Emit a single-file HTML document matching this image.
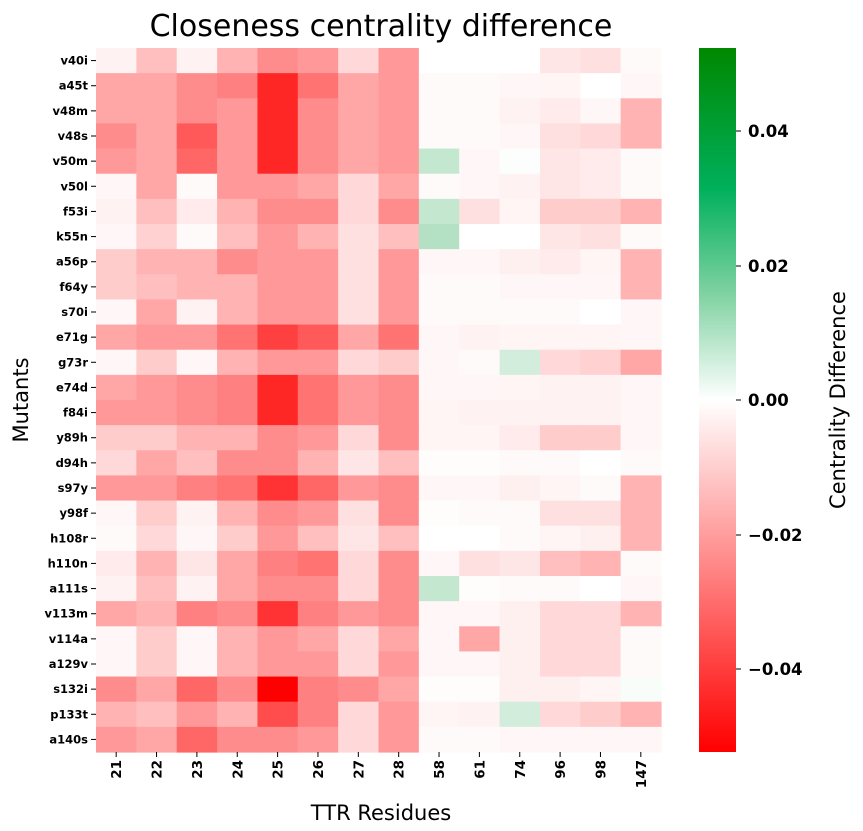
<!DOCTYPE html>
<html><head><meta charset="utf-8"><style>
body{margin:0;background:#fff;width:863px;height:826px;overflow:hidden;font-family:"Liberation Sans","DejaVu Sans",sans-serif}
</style></head><body>
<svg id="s" width="863" height="826" xmlns="http://www.w3.org/2000/svg" font-family="DejaVu Sans, Liberation Sans, sans-serif">
<defs><linearGradient id="g" x1="0" y1="0" x2="0" y2="1">
<stop offset="0" stop-color="#008800"/><stop offset="0.2" stop-color="#00b05c"/><stop offset="0.35" stop-color="#80d2a2"/><stop offset="0.5" stop-color="#ffffff"/><stop offset="1" stop-color="#ff0000"/></linearGradient></defs>
<text x="381" y="36" font-size="30" text-anchor="middle">Closeness centrality difference</text>
<text x="381" y="820" font-size="21" text-anchor="middle">TTR Residues</text>
<text transform="translate(28,400) rotate(-90)" font-size="21" text-anchor="middle">Mutants</text>
<text transform="translate(845,400) rotate(-90)" font-size="21" text-anchor="middle">Centrality Difference</text>
<rect x="699" y="48" width="37" height="704" fill="url(#g)"/>
<g font-size="16.5" font-weight="bold">
<line x1="736" y1="131" x2="741" y2="131" stroke="#000"/><text x="748" y="137">0.04</text>
<line x1="736" y1="266" x2="741" y2="266" stroke="#000"/><text x="748" y="272">0.02</text>
<line x1="736" y1="400" x2="741" y2="400" stroke="#000"/><text x="748" y="406">0.00</text>
<line x1="736" y1="535" x2="741" y2="535" stroke="#000"/><text x="748" y="541">−0.02</text>
<line x1="736" y1="669" x2="741" y2="669" stroke="#000"/><text x="748" y="675">−0.04</text>
</g>
<g id="cells"></g>
</svg>
<script>
var cols=["21","22","23","24","25","26","27","28","58","61","74","96","98","147"];
var rows=[
["v40i",[0.05,0.25,0.05,0.3,0.45,0.4,0.15,0.4,0,0,0,0.1,0.12,0.02]],
["a45t",[0.35,0.35,0.45,0.5,0.85,0.55,0.35,0.4,0.02,0.02,0.03,0.04,0,0.03]],
["v48m",[0.35,0.35,0.45,0.4,0.85,0.45,0.35,0.4,0.02,0.02,0.05,0.08,0.03,0.3]],
["v48s",[0.45,0.35,0.65,0.4,0.85,0.45,0.35,0.4,0.02,0.02,0.03,0.12,0.15,0.3]],
["v50m",[0.4,0.35,0.6,0.4,0.85,0.45,0.35,0.4,-0.2,0.03,-0.01,0.1,0.08,0.02]],
["v50l",[0.03,0.35,0.02,0.4,0.4,0.35,0.15,0.35,0.02,0.03,0.05,0.1,0.08,0.02]],
["f53i",[0.05,0.25,0.08,0.3,0.45,0.45,0.15,0.45,-0.2,0.12,0.04,0.2,0.2,0.3]],
["k55n",[0.03,0.18,0.02,0.25,0.4,0.3,0.12,0.25,-0.25,0,0,0.1,0.12,0.02]],
["a56p",[0.2,0.3,0.3,0.45,0.4,0.4,0.12,0.4,0.03,0.03,0.06,0.08,0.04,0.3]],
["f64y",[0.2,0.25,0.3,0.3,0.4,0.4,0.12,0.4,0.02,0.02,0.03,0.03,0.03,0.3]],
["s70i",[0.03,0.35,0.05,0.3,0.4,0.4,0.12,0.4,0.02,0.02,0.02,0.02,0,0.03]],
["e71g",[0.35,0.4,0.4,0.55,0.75,0.65,0.35,0.55,0.03,0.05,0.04,0.04,0.04,0.03]],
["g73r",[0.03,0.2,0.03,0.3,0.4,0.4,0.15,0.2,0.03,0.02,-0.15,0.15,0.18,0.35]],
["e74d",[0.35,0.4,0.45,0.5,0.85,0.55,0.4,0.45,0.03,0.03,0.04,0.05,0.05,0.03]],
["f84i",[0.4,0.4,0.45,0.5,0.85,0.55,0.4,0.45,0.04,0.05,0.05,0.05,0.05,0.03]],
["y89h",[0.2,0.2,0.3,0.3,0.45,0.4,0.15,0.45,0.04,0.04,0.08,0.2,0.2,0.03]],
["d94h",[0.15,0.35,0.25,0.45,0.45,0.3,0.1,0.25,0.01,0.01,0.02,0.02,0,0.02]],
["s97y",[0.4,0.4,0.5,0.55,0.8,0.6,0.4,0.45,0.03,0.03,0.06,0.04,0.02,0.3]],
["y98f",[0.03,0.2,0.05,0.3,0.45,0.4,0.12,0.45,0.01,0.02,0.02,0.12,0.12,0.3]],
["h108r",[0.02,0.15,0.03,0.2,0.4,0.25,0.1,0.25,0,0,0.02,0.04,0.06,0.3]],
["h110n",[0.08,0.3,0.1,0.35,0.5,0.55,0.15,0.45,0.03,0.12,0.1,0.25,0.3,0.02]],
["a111s",[0.05,0.25,0.05,0.35,0.45,0.45,0.15,0.45,-0.2,0.01,0.02,0.02,0,0.03]],
["v113m",[0.35,0.3,0.5,0.45,0.8,0.5,0.4,0.45,0.03,0.03,0.06,0.15,0.15,0.3]],
["v114a",[0.03,0.2,0.03,0.3,0.4,0.35,0.15,0.35,0.03,0.35,0.06,0.15,0.15,0.02]],
["a129v",[0.03,0.2,0.03,0.3,0.4,0.4,0.15,0.4,0.03,0.03,0.06,0.15,0.15,0.02]],
["s132i",[0.45,0.35,0.6,0.45,1.0,0.5,0.45,0.35,0.01,0.01,0.06,0.06,0.04,-0.02]],
["p133t",[0.3,0.25,0.4,0.3,0.7,0.5,0.15,0.4,0.04,0.05,-0.15,0.15,0.2,0.3]],
["a140s",[0.4,0.35,0.6,0.45,0.45,0.4,0.15,0.4,0.02,0.02,0.03,0.03,0.03,0.03]]];
var x0=96,x1=661,y0=48,y1=752,cw=(x1-x0)/14,rh=(y1-y0)/28,h="";
function col(t){if(t>=0){var v=Math.round(255*(1-t));return "rgb(255,"+v+","+v+")";}
 t=-t;var r=Math.round(255-(255-180)*t/0.25),g=Math.round(255-(255-225)*t/0.25),b=Math.round(255-(255-195)*t/0.25);return "rgb("+r+","+g+","+b+")";}
rows.forEach(function(r,i){var y=y0+i*rh;
 r[1].forEach(function(t,j){h+='<rect x="'+(x0+j*cw).toFixed(2)+'" y="'+y.toFixed(2)+'" width="'+(cw+0.6).toFixed(2)+'" height="'+(rh+0.6).toFixed(2)+'" fill="'+col(t)+'"/>';});
 h+='<line x1="'+(x0-5)+'" y1="'+(y+rh/2)+'" x2="'+x0+'" y2="'+(y+rh/2)+'" stroke="#000"/>';
 h+='<text x="'+(x0-8)+'" y="'+(y+rh/2+4)+'" font-size="11.5" font-weight="bold" text-anchor="end">'+r[0]+'</text>';});
cols.forEach(function(c,j){var x=x0+j*cw+cw/2;
 h+='<line x1="'+x+'" y1="'+y1+'" x2="'+x+'" y2="'+(y1+5)+'" stroke="#000"/>';
 h+='<text transform="translate('+(x+5)+','+(y1+8)+') rotate(-90)" font-size="13.5" font-weight="bold" text-anchor="end">'+c+'</text>';});
document.getElementById("cells").innerHTML=h;
</script>
</body></html>
